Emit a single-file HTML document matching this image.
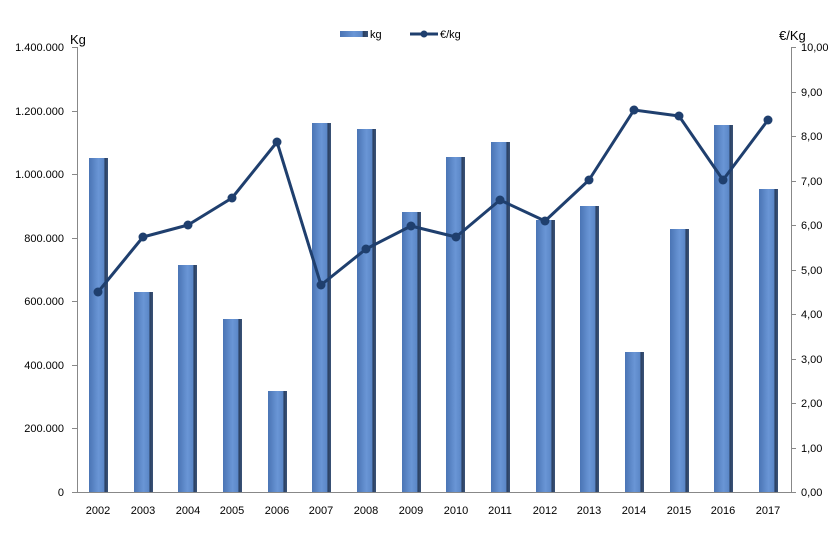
<!DOCTYPE html>
<html><head><meta charset="utf-8"><style>
body{margin:0;background:#fff;width:840px;height:532px;overflow:hidden}
text{font-family:"Liberation Sans",sans-serif;font-size:11px;fill:#000}
</style></head><body>
<svg width="840" height="532" xmlns="http://www.w3.org/2000/svg">
<defs>
<linearGradient id="g" x1="0" x2="1" y1="0" y2="0">
<stop offset="0" stop-color="#4a74b4"/><stop offset="0.5" stop-color="#6a96d6"/><stop offset="0.8" stop-color="#5a86c6"/><stop offset="0.82" stop-color="#2a3f60"/><stop offset="1" stop-color="#3a5378"/>
</linearGradient>
</defs>
<g stroke="#888" stroke-width="1">
<line x1="77.5" y1="47" x2="77.5" y2="492"/>
<line x1="72" y1="492.5" x2="791" y2="492.5"/>
<line x1="791.5" y1="47" x2="791.5" y2="492"/>
<line x1="72" y1="47.5" x2="77" y2="47.5"/><line x1="72" y1="111.5" x2="77" y2="111.5"/><line x1="72" y1="174.5" x2="77" y2="174.5"/><line x1="72" y1="238.5" x2="77" y2="238.5"/><line x1="72" y1="301.5" x2="77" y2="301.5"/><line x1="72" y1="365.5" x2="77" y2="365.5"/><line x1="72" y1="428.5" x2="77" y2="428.5"/>
<line x1="791" y1="47.5" x2="796" y2="47.5"/><line x1="791" y1="92.5" x2="796" y2="92.5"/><line x1="791" y1="136.5" x2="796" y2="136.5"/><line x1="791" y1="181.5" x2="796" y2="181.5"/><line x1="791" y1="225.5" x2="796" y2="225.5"/><line x1="791" y1="270.5" x2="796" y2="270.5"/><line x1="791" y1="314.5" x2="796" y2="314.5"/><line x1="791" y1="359.5" x2="796" y2="359.5"/><line x1="791" y1="403.5" x2="796" y2="403.5"/><line x1="791" y1="448.5" x2="796" y2="448.5"/><line x1="791" y1="492.5" x2="796" y2="492.5"/>
</g>
<g text-anchor="end">
<text x="64" y="51">1.400.000</text><text x="64" y="115">1.200.000</text><text x="64" y="178">1.000.000</text><text x="64" y="242">800.000</text><text x="64" y="305">600.000</text><text x="64" y="369">400.000</text><text x="64" y="432">200.000</text><text x="64" y="496">0</text>
</g>
<g>
<text x="801" y="51">10,00</text><text x="801" y="96">9,00</text><text x="801" y="140">8,00</text><text x="801" y="185">7,00</text><text x="801" y="229">6,00</text><text x="801" y="274">5,00</text><text x="801" y="318">4,00</text><text x="801" y="363">3,00</text><text x="801" y="407">2,00</text><text x="801" y="452">1,00</text><text x="801" y="496">0,00</text>
</g>
<text x="70" y="44" style="font-size:13px">Kg</text>
<text x="779" y="40" style="font-size:13px">€/Kg</text>
<g fill="url(#g)">
<rect x="89" y="158" width="19" height="334"/>
<rect x="134" y="292" width="19" height="200"/>
<rect x="178" y="265" width="19" height="227"/>
<rect x="223" y="319" width="19" height="173"/>
<rect x="268" y="391" width="19" height="101"/>
<rect x="312" y="123" width="19" height="369"/>
<rect x="357" y="129" width="19" height="363"/>
<rect x="402" y="212" width="19" height="280"/>
<rect x="446" y="157" width="19" height="335"/>
<rect x="491" y="142" width="19" height="350"/>
<rect x="536" y="220" width="19" height="272"/>
<rect x="580" y="206" width="19" height="286"/>
<rect x="625" y="352" width="19" height="140"/>
<rect x="670" y="229" width="19" height="263"/>
<rect x="714" y="125" width="19" height="367"/>
<rect x="759" y="189" width="19" height="303"/>
</g>
<polyline fill="none" stroke="#1f3f6e" stroke-width="3" stroke-linejoin="round" points="98,292 143,237 188,225 232,198 277,142 321,285 366,249 411,226 456,237 500,200 545,221 589,180 634,110 679,116 723,180 768,120"/>
<g fill="#1f3f6e">
<circle cx="98" cy="292" r="4.5"/><circle cx="143" cy="237" r="4.5"/><circle cx="188" cy="225" r="4.5"/><circle cx="232" cy="198" r="4.5"/><circle cx="277" cy="142" r="4.5"/><circle cx="321" cy="285" r="4.5"/><circle cx="366" cy="249" r="4.5"/><circle cx="411" cy="226" r="4.5"/><circle cx="456" cy="237" r="4.5"/><circle cx="500" cy="200" r="4.5"/><circle cx="545" cy="221" r="4.5"/><circle cx="589" cy="180" r="4.5"/><circle cx="634" cy="110" r="4.5"/><circle cx="679" cy="116" r="4.5"/><circle cx="723" cy="180" r="4.5"/><circle cx="768" cy="120" r="4.5"/>
</g>
<g text-anchor="middle">
<text x="98" y="514">2002</text><text x="143" y="514">2003</text><text x="188" y="514">2004</text><text x="232" y="514">2005</text><text x="277" y="514">2006</text><text x="321" y="514">2007</text><text x="366" y="514">2008</text><text x="411" y="514">2009</text><text x="456" y="514">2010</text><text x="500" y="514">2011</text><text x="545" y="514">2012</text><text x="589" y="514">2013</text><text x="634" y="514">2014</text><text x="679" y="514">2015</text><text x="723" y="514">2016</text><text x="768" y="514">2017</text>
</g>
<rect x="340" y="31" width="28" height="6" fill="url(#g)"/>
<text x="370" y="38">kg</text>
<line x1="410" y1="34" x2="438" y2="34" stroke="#1f3f6e" stroke-width="3"/>
<circle cx="424" cy="34" r="3.5" fill="#1f3f6e"/>
<text x="440" y="38">€/kg</text>
</svg>
</body></html>
